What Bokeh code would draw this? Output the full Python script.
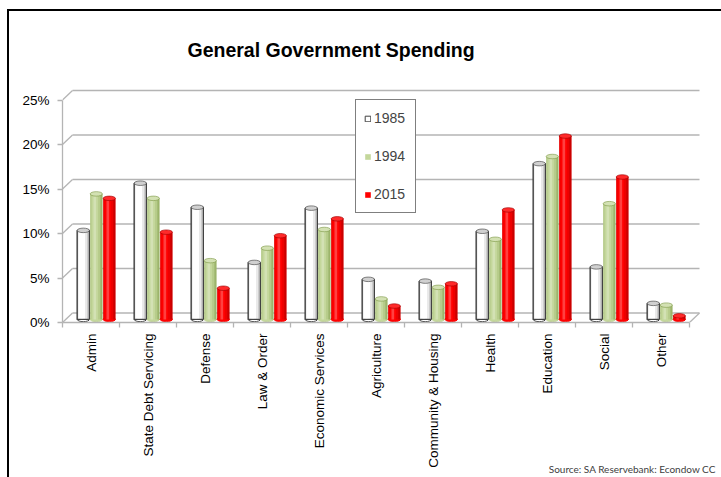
import numpy as np
from bokeh.plotting import figure
from bokeh.models import (Range1d, FixedTicker, PrintfTickFormatter, Title,
                          Legend, LegendItem, InlineStyleSheet, LinearAxis)
from bokeh.embed import file_html
from bokeh.resources import INLINE

# ---------------- data ----------------
categories = ["Admin", "State Debt Servicing", "Defense", "Law & Order",
              "Economic Services", "Agriculture", "Community & Housing",
              "Health", "Education", "Social", "Other"]
years = ["1985", "1994", "2015"]
v1985 = [10.0, 15.3, 12.6, 6.4, 12.5, 4.5, 4.3, 9.9, 17.5, 5.9, 1.8]
v1994 = [14.1, 13.6, 6.6, 8.0, 10.1, 2.3, 3.6, 9.0, 18.3, 13.0, 1.6]
v2015 = [13.6, 9.8, 3.5, 9.4, 11.3, 1.5, 4.0, 12.3, 20.6, 16.0, 0.4]
y_ticks = [0, 5, 10, 15, 20, 25]
title_text = "General Government Spending"
source_text = "Source:  SA Reservebank:  Econdow CC"

# ---------------- layout constants (pixels) ----------------
W, H = 721, 477
L, T, B = 62, 85, 322
PX_PCT = 8.9
CAT_W = 57.0

def xd(px):
    return -0.5 + (px - L) / CAT_W

def yd(py):
    return (B - py) / PX_PCT

FONT = "Liberation Sans"

p = figure(width=W, height=H, title=None,
           x_range=Range1d(-0.5, xd(W)), y_range=Range1d(0, yd(T)),
           output_backend="svg", toolbar_location=None,
           min_border_left=L, min_border_right=0,
           min_border_top=T, min_border_bottom=H - B)
p.xgrid.visible = False
p.ygrid.visible = False
p.outline_line_color = None
p.background_fill_color = "white"
p.border_fill_color = "white"

# outer chart border (left and top edges, as in the cropped reference)
p.stylesheets = [InlineStyleSheet(css=(
    ":host::after { content: ''; position: absolute; left: 7px; top: 9px; "
    "width: 714px; height: 468px; border-left: 2px solid #000; "
    "border-top: 2px solid #000; box-sizing: border-box; "
    "pointer-events: none; z-index: 20; }"))]

GRID = "#b4b4b4"

# ---------------- axes ----------------
yax = p.yaxis[0]
yax.ticker = FixedTicker(ticks=y_ticks, minor_ticks=[])
yax.formatter = PrintfTickFormatter(format="%d%%")
yax.bounds = (0, 25)
yax.axis_line_color = GRID
yax.axis_line_width = 1.3
yax.major_tick_line_color = GRID
yax.major_tick_line_width = 1.3
yax.major_tick_out = 5
yax.major_tick_in = 0
yax.minor_tick_line_color = None
yax.major_label_text_font = FONT
yax.major_label_text_font_size = "13.5px"
yax.major_label_text_color = "black"
yax.major_label_standoff = 8

xax = p.xaxis[0]
xax.ticker = FixedTicker(ticks=list(range(len(categories))),
                         minor_ticks=[i - 0.5 for i in range(len(categories) + 1)])
xax.major_label_overrides = {i: c for i, c in enumerate(categories)}
xax.major_label_orientation = np.pi / 2
xax.bounds = (-0.5, len(categories) - 0.5)
xax.axis_line_color = GRID
xax.axis_line_width = 1.3
xax.major_tick_line_color = None
xax.major_tick_out = 0
xax.major_tick_in = 0
xax.minor_tick_line_color = GRID
xax.minor_tick_line_width = 1.3
xax.minor_tick_out = 5
xax.minor_tick_in = 0
xax.major_label_text_font = FONT
xax.major_label_text_font_size = "13.5px"
xax.major_label_text_color = "black"
xax.major_label_standoff = 6

# source note as a label-only axis stacked below the category axis
src_tick = 9.56
sax = LinearAxis(ticker=FixedTicker(ticks=[src_tick], minor_ticks=[]),
                 major_label_overrides={src_tick: source_text},
                 axis_line_color=None, major_tick_line_color=None,
                 minor_tick_line_color=None, major_tick_out=0, major_tick_in=0,
                 major_label_standoff=-8, major_label_text_font="Lato",
                 major_label_text_font_size="10px", major_label_text_color="#404040")
p.add_layout(sax, "below")

# ---------------- 3D back wall grid ----------------
dx = 10.0 / CAT_W
dy = 9.5 / PX_PCT
n = len(categories)
p.segment(x0=[-0.5 + dx] * len(y_ticks), y0=[v + dy for v in y_ticks],
          x1=[n - 0.5 + dx] * len(y_ticks), y1=[v + dy for v in y_ticks],
          line_color=GRID, line_width=1.5)
p.segment(x0=[-0.5] * len(y_ticks), y0=y_ticks,
          x1=[-0.5 + dx] * len(y_ticks), y1=[v + dy for v in y_ticks],
          line_color=GRID, line_width=1.3)
p.segment(x0=[n - 0.5], y0=[0], x1=[n - 0.5 + dx], y1=[dy],
          line_color=GRID, line_width=1.3)

# ---------------- cylinders ----------------
depth = 0.35
offsets = [-0.135, 0.093, 0.321]
bw = 0.215
styles = [
    dict(base="#ffffff", shade="#8c8c8c", top="#d0d0d0", line="#404040"),
    dict(base="#c4d79b", shade="#7f9a48", top="#d3e1b3", line=None),
    dict(base="#ff0000", shade="#a00000", top="#ff2a2a", line=None),
]
series = [v1985, v1994, v2015]
renderers = []
for k, (vals, st) in enumerate(zip(series, styles)):
    xs = [i + offsets[k] for i in range(n)]
    tops = [v + depth for v in vals]
    p.ellipse(x=xs, y=[depth] * n, width=bw, height=4.5, height_units="screen",
              fill_color=st["base"], line_color=st["line"] or st["base"], line_width=1)
    r = p.vbar(x=xs, width=bw, bottom=depth, top=tops, fill_color=st["base"],
               line_color=st["line"], line_width=1)
    renderers.append(r)
    for frac, w, a in [(0.30, 0.16, 0.18), (0.40, 0.10, 0.30), (0.46, 0.05, 0.35),
                       (-0.45, 0.06, 0.22)]:
        p.vbar(x=[x + bw * frac for x in xs], width=bw * w * 2,
               bottom=depth, top=tops, fill_color=st["shade"], fill_alpha=a,
               line_color=None)
    p.vbar(x=[x - bw * 0.12 for x in xs], width=bw * 0.22, bottom=depth, top=tops,
           fill_color="white", fill_alpha=0.25, line_color=None)
    if st["line"]:
        p.vbar(x=xs, width=bw, bottom=depth, top=tops, fill_color=None,
               line_color=st["line"], line_width=1)
    p.ellipse(x=xs, y=tops, width=bw, height=4.5, height_units="screen",
              fill_color=st["top"], line_color=st["line"] or st["shade"], line_width=0.8,
              line_alpha=0.8)

# ---------------- legend ----------------
legend = Legend(items=[LegendItem(label=y, renderers=[r]) for y, r in zip(years, renderers)],
                location=(293, 109), glyph_width=7, glyph_height=7, label_height=20,
                label_width=33, spacing=18, padding=8, label_standoff=3, margin=0,
                border_line_color="black", border_line_width=1,
                label_text_font=FONT, label_text_font_size="14px",
                background_fill_color="white", background_fill_alpha=1)
p.add_layout(legend)

# ---------------- title ----------------
p.add_layout(Title(text=title_text, align="left", offset=125, standoff=50,
                   text_font=FONT, text_font_style="bold", text_font_size="19.5px",
                   text_color="black"), "above")

open("out.html", "w").write(file_html(p, INLINE))
